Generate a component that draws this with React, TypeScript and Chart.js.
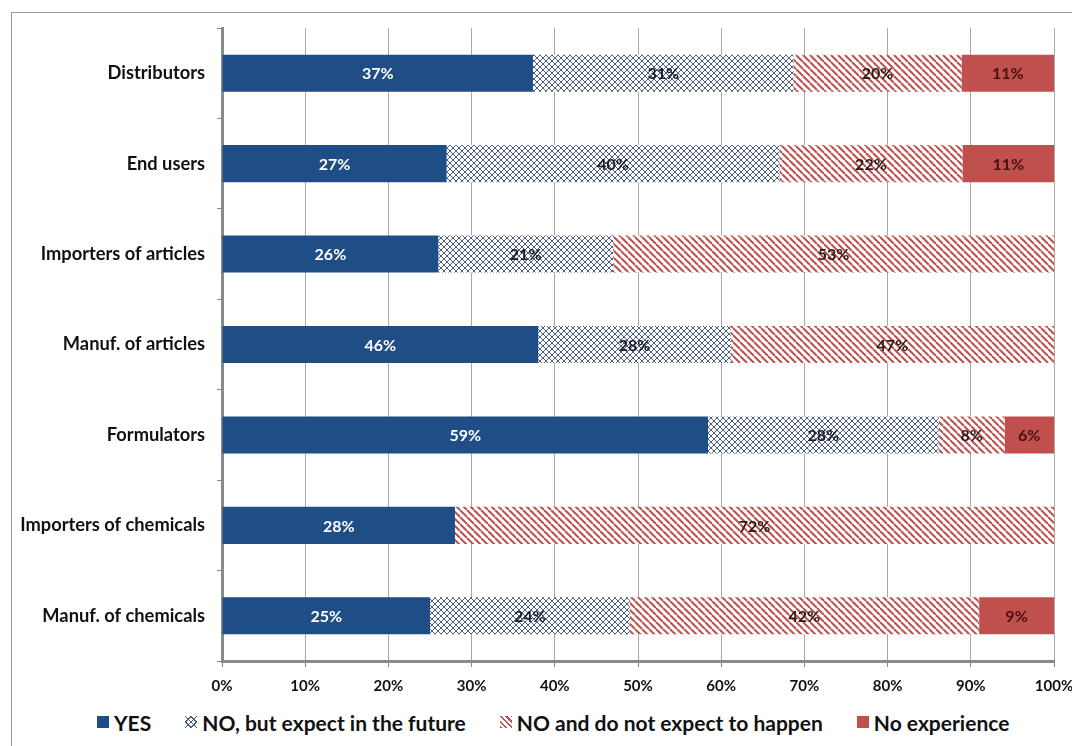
import React, { useEffect, useRef } from "react";
import { Chart, registerables } from "chart.js";

Chart.register(...registerables);

const categories = [
  "Distributors",
  "End users",
  "Importers of articles",
  "Manuf. of articles",
  "Formulators",
  "Importers of chemicals",
  "Manuf. of chemicals",
];
const seriesNames = [
  "YES",
  "NO, but expect in the future",
  "NO and do not expect to happen",
  "No experience",
];
const yesValues = [37, 27, 26, 46, 59, 28, 25];
const futureValues = [31, 40, 21, 28, 28, 0, 24];
const notExpectValues = [20, 22, 53, 47, 8, 72, 42];
const noExpValues = [11, 11, 0, 0, 6, 0, 9];
const xTickLabels = ["0%", "10%", "20%", "30%", "40%", "50%", "60%", "70%", "80%", "90%", "100%"];

const FONT = "Lato, 'Open Sans', sans-serif";
const BLUE = "#1F4E86";
const RED = "#C0504D";
const HATCH = "#4a5f80";

function crossHatch(): CanvasPattern | string {
  const c = document.createElement("canvas");
  c.width = 6;
  c.height = 6;
  const ctx = c.getContext("2d");
  if (!ctx) return "#ccc";
  ctx.fillStyle = "#ffffff";
  ctx.fillRect(0, 0, 6, 6);
  ctx.strokeStyle = HATCH;
  ctx.lineWidth = 1;
  ctx.beginPath();
  ctx.moveTo(0, 0);
  ctx.lineTo(6, 6);
  ctx.moveTo(0, 6);
  ctx.lineTo(6, 0);
  ctx.stroke();
  return ctx.createPattern(c, "repeat") || "#ccc";
}

function stripes(): CanvasPattern | string {
  const s = 7;
  const c = document.createElement("canvas");
  c.width = s;
  c.height = s;
  const ctx = c.getContext("2d");
  if (!ctx) return RED;
  ctx.fillStyle = "#ffffff";
  ctx.fillRect(0, 0, s, s);
  ctx.strokeStyle = RED;
  ctx.lineWidth = 2;
  ctx.beginPath();
  for (const x of [-s, 0, s]) {
    ctx.moveTo(x, 0);
    ctx.lineTo(x + s, s);
  }
  ctx.stroke();
  return ctx.createPattern(c, "repeat") || RED;
}

const rawSeries = [yesValues, futureValues, notExpectValues, noExpValues];
const labelColors = ["#ffffff", "#1a1a2a", "#2a1a1a", "#4a1010"];

const legendSwatches: React.CSSProperties[] = [
  { background: BLUE },
  {
    background: `repeating-linear-gradient(45deg, ${HATCH} 0 1px, transparent 1px 4px), repeating-linear-gradient(-45deg, ${HATCH} 0 1px, #fff 1px 4px)`,
  },
  { background: `repeating-linear-gradient(45deg, ${RED} 0 1.5px, #fff 1.5px 4px)` },
  { background: RED },
];

const segmentLabels = {
  id: "segmentLabels",
  afterDatasetsDraw(chart: any) {
    const ctx = chart.ctx;
    ctx.save();
    ctx.font = `bold 16px ${FONT}`;
    ctx.textAlign = "center";
    ctx.textBaseline = "middle";
    chart.data.datasets.forEach((ds: any, di: number) => {
      const meta = chart.getDatasetMeta(di);
      meta.data.forEach((el: any, i: number) => {
        const raw = rawSeries[di][i];
        if (!raw) return;
        const cx = (el.x + el.base) / 2;
        ctx.fillStyle = labelColors[di];
        ctx.fillText(raw + "%", cx, el.y + 1);
      });
    });
    ctx.restore();
  },
};

export default function App() {
  const ref = useRef<HTMLCanvasElement>(null);
  useEffect(() => {
    if (!ref.current) return;
    const totals = categories.map((_, i) => rawSeries.reduce((s, arr) => s + arr[i], 0));
    const share = (arr: number[]) => arr.map((v, i) => (v / totals[i]) * 100);
    const fills = [BLUE, crossHatch(), stripes(), RED];
    const chart = new Chart(ref.current, {
      type: "bar",
      data: {
        labels: categories,
        datasets: rawSeries.map((arr, k) => ({
          label: seriesNames[k],
          data: share(arr),
          backgroundColor: fills[k] as any,
          borderWidth: 0,
          categoryPercentage: 1,
          barPercentage: 0.41,
        })),
      },
      options: {
        indexAxis: "y",
        animation: false,
        responsive: false,
        maintainAspectRatio: false,
        layout: { padding: { top: 15, right: 21, bottom: 0, left: 0 } },
        plugins: {
          tooltip: { enabled: false },
          legend: { display: false },
        },
        scales: {
          x: {
            stacked: true,
            min: 0,
            max: 100,
            afterFit: (s: any) => {
              s.height = 42;
              s.paddingRight = 0;
              s.paddingLeft = 0;
            },
            ticks: {
              stepSize: 10,
              autoSkip: false,
              maxRotation: 0,
              padding: 10,
              color: "#111",
              font: { family: FONT, size: 15, weight: "bold" },
              callback: (_v: any, idx: number) => xTickLabels[idx],
            },
            grid: { color: "#a8a8a8", lineWidth: 1, tickLength: 6, tickColor: "#888" },
            border: { color: "#8a8a8a", width: 3 },
          },
          y: {
            stacked: true,
            afterFit: (s: any) => {
              s.width = 210;
              s.paddingTop = 0;
              s.paddingBottom = 0;
            },
            ticks: {
              padding: 12,
              color: "#111",
              font: { family: FONT, size: 18.3, weight: "bold" },
            },
            grid: {
              offset: true,
              drawOnChartArea: false,
              tickLength: 5,
              tickColor: "#888",
            },
            border: { color: "#8a8a8a", width: 3 },
          },
        },
      },
      plugins: [segmentLabels],
    } as any);
    return () => chart.destroy();
  }, []);
  return (
    <div
      style={{
        marginLeft: 3,
        marginTop: 4,
        width: 1080,
        height: 740,
        border: "1px solid #9a9a9a",
        boxSizing: "content-box",
        background: "#fff",
      }}
    >
      <canvas ref={ref} width={1063} height={690} style={{ display: "block" }} />
      <div
        style={{
          display: "flex",
          alignItems: "center",
          height: 38,
          paddingLeft: 85,
          fontFamily: FONT,
          fontWeight: 700,
          fontSize: 21,
          color: "#111",
          whiteSpace: "nowrap",
        }}
      >
        {seriesNames.map((name, k) => (
          <div
            key={name}
            style={{ display: "flex", alignItems: "center", marginLeft: k === 0 ? 0 : 34 }}
          >
            <span
              style={{
                display: "inline-block",
                width: 12,
                height: 12,
                marginRight: 5,
                ...legendSwatches[k],
              }}
            />
            <span>{name}</span>
          </div>
        ))}
      </div>
    </div>
  );
}
